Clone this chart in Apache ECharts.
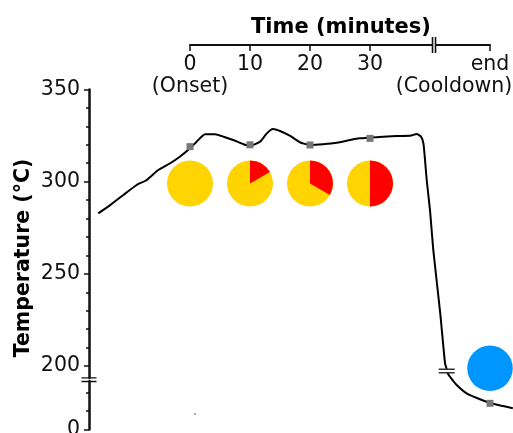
<!DOCTYPE html>
<html>
<head>
<meta charset="utf-8">
<script src="https://cdn.jsdelivr.net/npm/echarts@6/dist/echarts.min.js"></script>
<style>html,body{margin:0;padding:0;background:#fff}#c{width:513px;height:433px}</style>
</head>
<body>
<div id="c"></div>
<script>
// ---- data ----
const heatTime = [-15.3, -13.3, -11.1, -8.9, -7.2, -5.3, -3.3, -1.7, 0, 1.1, 2.5, 4.2, 5.6, 7.2, 8.9, 10, 11.7, 12.8, 13.8, 15, 16.7, 18.3, 20, 22.2, 24.5, 26.7, 28.3, 30, 32.2, 34.4, 36.7, 37.8, 38.5, 38.9, 39.1, 39.45, 40, 40.55, 41.7, 42.5, 42.8];
const heatTemp = [282.8, 287.3, 292.8, 298.2, 300.9, 306.3, 310.0, 313.5, 318.1, 321.7, 325.7, 325.7, 324.4, 322.6, 320.3, 319.5, 321.7, 326.2, 328.6, 327.5, 324.8, 321.4, 319.9, 320.3, 321.1, 322.6, 323.5, 323.9, 324.4, 324.8, 324.9, 325.9, 324.4, 320.8, 314.5, 300.9, 284.6, 262.9, 228.8, 201.6, 198.2];
const coolTime = [42.9, 43.33, 44.45, 46.1, 48.33, 49.9, 51.95, 53.8];
const coolTemp = [30.7, 28.6, 24.1, 19.6, 16.4, 14.5, 12.9, 11.5];
const sampleTime = [0, 10, 20, 30];
const sampleTemp = [319.0, 320.0, 319.9, 323.5];
const endSampleTime = [50];
const endSampleTemp = [14.2];
const pieTime = [0, 10, 20, 30];
const pieTemp = [299, 299, 299, 299];
const redShare = [0, 0.167, 0.333, 0.5];
const blueTime = [50];
const blueTemp = [198.75];
const strayTime = [0.83];
const strayTemp = [8.4];
const topTickValues = [0, 10, 20, 30, 50];
const topTickLabels = ['0\n(Onset)', '10', '20', '30', 'end\n(Cooldown)'];
const yMajorTicks = [200, 250, 300, 350];
const yMinorTicks = [210, 220, 230, 240, 260, 270, 280, 290, 310, 320, 330, 340];
const lowMajorTicks = [0];
const lowMinorTicks = [10, 20];
// break positions (axis units)
const axisBreakTemp = 192.6;
const lineBreakTime = 42.78, lineBreakTemp = 197.3;
const topBreakTime = 40.67;

// ---- layout ----
const FONT = '"DejaVu Sans", sans-serif';
const INK = '#111';
const pxPerMin = 6;
const xMin = (89 - 190) / pxPerMin;
const xMax = (513 - 190) / pxPerMin;

const chart = echarts.init(document.getElementById('c'), null, {renderer: 'canvas'});

const zip = (a, b) => a.map((v, i) => [v, b[i]]);
const hiddenX = (gi) => ({type: 'value', gridIndex: gi, min: xMin, max: xMax, show: false, axisLine: {onZero: false}});

const yAx = (gi, min, max, showLine, ticks, len, labels) => ({
  type: 'value', gridIndex: gi, min: min, max: max, position: 'left',
  axisLine: {show: showLine, onZero: false, lineStyle: {color: INK, width: 2.5}},
  axisTick: {show: true, customValues: ticks, length: len, lineStyle: {color: INK, width: 1.5}},
  axisLabel: labels ? {show: true, customValues: labels, margin: 9, fontSize: 20.5, fontFamily: FONT, color: INK} : {show: false},
  splitLine: {show: false}
});

const option = {
  animation: false,
  backgroundColor: '#fff',
  grid: [
    {left: 89, right: 0, top: 89.5, height: 288.5, outerBoundsMode: 'none', containLabel: false},
    {left: 89, right: 0, top: 381, height: 48.5, outerBoundsMode: 'none', containLabel: false},
    {left: 190, right: 23, top: 44, height: 1, outerBoundsMode: 'none', containLabel: false}
  ],
  xAxis: [
    hiddenX(0),
    hiddenX(1),
    {
      type: 'value', gridIndex: 2, min: 0, max: 50, position: 'bottom',
      axisLine: {show: true, onZero: false, lineStyle: {color: INK, width: 2}},
      axisTick: {show: true, customValues: topTickValues, length: 6, lineStyle: {color: INK, width: 1.5}},
      splitLine: {show: false},
      axisLabel: {
        show: true, customValues: topTickValues, margin: 9, lineHeight: 22,
        formatter: function (val) {
          const i = topTickValues.indexOf(val);
          if (i < 0) return '';
          const lines = topTickLabels[i].split('\n');
          if (lines.length === 2 && i === topTickValues.length - 1) {
            return '{n|' + lines[0] + '}\n{c|' + lines[1] + '}';
          }
          return lines.map(l => '{n|' + l + '}').join('\n');
        },
        rich: {
          n: {fontSize: 20.5, fontFamily: FONT, color: INK, lineHeight: 22},
          c: {fontSize: 20.5, fontFamily: FONT, color: INK, lineHeight: 22, padding: [0, 72, 0, 0]}
        }
      }
    }
  ],
  yAxis: [
    yAx(0, 193.5, 350, true, yMajorTicks, 5, yMajorTicks),
    yAx(0, 193.5, 350, false, yMinorTicks, 3, null),
    yAx(1, 0, 26.3, true, lowMajorTicks, 5, lowMajorTicks),
    yAx(1, 0, 26.3, false, lowMinorTicks, 3, null),
    {type: 'value', gridIndex: 2, min: 0, max: 1, show: false}
  ],
  graphic: [
    {type: 'text', x: 341, y: 28, style: {text: 'Time (minutes)', font: 'bold 21px ' + FONT, fill: '#000', align: 'center', verticalAlign: 'middle'}},
    {type: 'text', x: 24, y: 258, rotation: Math.PI / 2, style: {text: 'Temperature (°C)', font: 'bold 20.5px ' + FONT, fill: '#000', align: 'center', verticalAlign: 'middle'}}
  ],
  series: [
    {
      type: 'line', xAxisIndex: 0, yAxisIndex: 0, data: zip(heatTime, heatTemp),
      showSymbol: false, clip: false, smooth: 0.15,
      lineStyle: {color: '#000', width: 2}, z: 3
    },
    {
      type: 'line', xAxisIndex: 1, yAxisIndex: 2, data: zip(coolTime, coolTemp),
      showSymbol: false, clip: false, smooth: 0.3,
      lineStyle: {color: '#000', width: 2}, z: 3
    },
    {
      type: 'scatter', xAxisIndex: 0, yAxisIndex: 0, data: zip(sampleTime, sampleTemp),
      symbol: 'rect', symbolSize: 7, itemStyle: {color: '#777', opacity: 1}, clip: false, z: 4
    },
    {
      type: 'scatter', xAxisIndex: 1, yAxisIndex: 2, data: zip(endSampleTime, endSampleTemp),
      symbol: 'rect', symbolSize: 7, itemStyle: {color: '#777', opacity: 1}, clip: false, z: 4
    },
    {
      type: 'scatter', xAxisIndex: 1, yAxisIndex: 2, data: zip(strayTime, strayTemp),
      symbol: 'rect', symbolSize: 2, itemStyle: {color: '#aaa', opacity: 1}, clip: false, z: 4
    },
    {
      type: 'scatter', xAxisIndex: 0, yAxisIndex: 0, data: zip(blueTime, blueTemp),
      symbol: 'circle', symbolSize: 45.5, itemStyle: {color: '#0096FF', opacity: 1}, clip: false, z: 4
    },
    {
      type: 'custom', xAxisIndex: 0, yAxisIndex: 0, clip: false, z: 4,
      data: pieTime.map((t, i) => [t, pieTemp[i], redShare[i]]),
      renderItem: function (params, api) {
        const c = api.coord([api.value(0), api.value(1)]);
        const share = api.value(2);
        const r = 23;
        const children = [{type: 'circle', shape: {cx: c[0], cy: c[1], r: r}, style: {fill: '#FFD400'}}];
        if (share > 0) {
          children.push({type: 'sector', shape: {cx: c[0], cy: c[1], r0: 0, r: r,
            startAngle: -Math.PI / 2, endAngle: -Math.PI / 2 + share * 2 * Math.PI, clockwise: true},
            style: {fill: '#FF0000'}});
        }
        return {type: 'group', children: children};
      }
    },
    // break marks
    {
      type: 'scatter', xAxisIndex: 0, yAxisIndex: 0, data: [[xMin, axisBreakTemp]],
      symbol: 'path://M0,0H15V1.6H0Z M0,4H15V5.6H0Z', symbolSize: [15, 5], symbolKeepAspect: false,
      itemStyle: {color: INK, opacity: 1}, clip: false, z: 5, silent: true
    },
    {
      type: 'scatter', xAxisIndex: 0, yAxisIndex: 0, data: [[lineBreakTime, lineBreakTemp]],
      symbol: 'path://M0,0H16V1.6H0Z M0,4H16V5.6H0Z', symbolSize: [16, 5], symbolKeepAspect: false,
      itemStyle: {color: '#333', opacity: 1}, clip: false, z: 5, silent: true
    },
    {
      type: 'scatter', xAxisIndex: 2, yAxisIndex: 4, data: [[topBreakTime, 0]],
      symbol: 'rect', symbolSize: [4, 4], itemStyle: {color: '#fff', opacity: 1}, clip: false, z: 5, silent: true
    },
    {
      type: 'scatter', xAxisIndex: 2, yAxisIndex: 4, data: [[topBreakTime, 0]],
      symbol: 'path://M0,0H1.6V16H0Z M3,0H4.6V16H3Z', symbolSize: [4.6, 16], symbolKeepAspect: false,
      itemStyle: {color: INK, opacity: 1}, clip: false, z: 6, silent: true
    }
  ]
};
chart.setOption(option);
</script>
</body>
</html>
